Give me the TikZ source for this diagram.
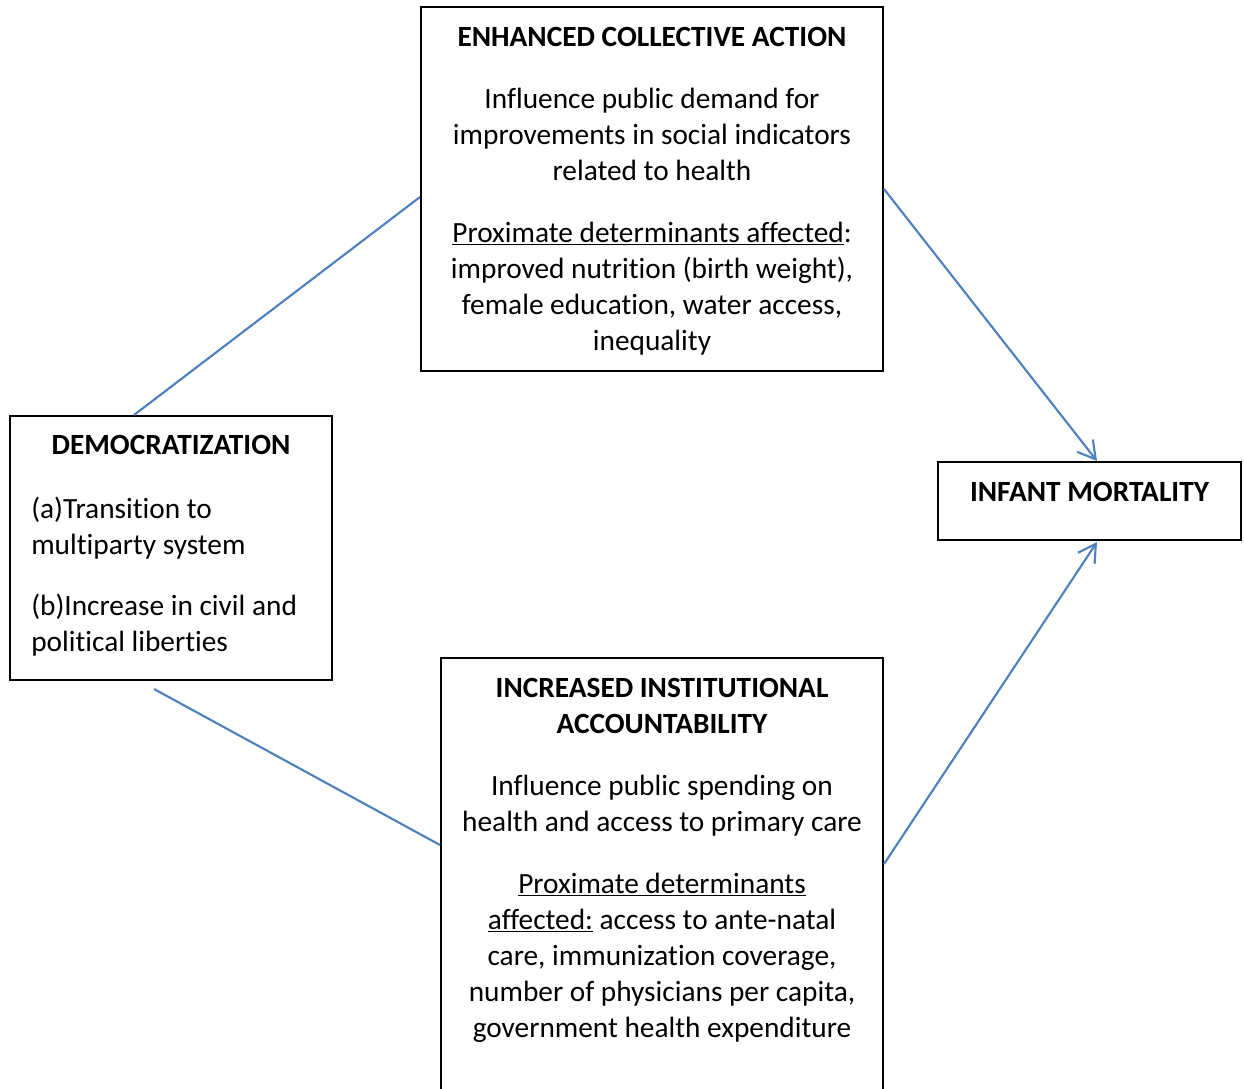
\documentclass[tikz,border=0pt]{standalone}
\usepackage{fontspec}
\setmainfont{Carlito}[RawFeature={-liga;-clig}]
\usetikzlibrary{arrows.meta,calc}
\definecolor{linkblue}{HTML}{4F81BD}
\tikzset{
  box/.style={draw=black, line width=1.5pt, rectangle, inner sep=0pt},
  para/.style={inner sep=0pt, align=center, font=\fontsize{22pt}{27pt}\selectfont},
  parl/.style={inner sep=0pt, align=left, font=\fontsize{22pt}{27pt}\selectfont},
  head/.style={inner sep=0pt, align=center, font=\fontsize{22pt}{27pt}\selectfont\bfseries},
  link/.style={draw=linkblue, line width=1.6pt},
  arrowlink/.style={link, -{Straight Barb[length=13pt, width=15pt, line width=1.6pt]}}
}
\begin{document}
\begin{tikzpicture}[x=0.75pt, y=-0.75pt]
\useasboundingbox (0,0) rectangle (1244,1088);
\clip (0,0) rectangle (1244,1088);
\fill[white] (0,0) rectangle (1244,1088);

% boxes
\node[box, minimum width=346.5pt, minimum height=273pt] (eca) at (652,189) {};
\node[box, minimum width=241.5pt, minimum height=198pt] (dem) at (171,548) {};
\node[box, minimum width=227.25pt, minimum height=58.5pt] (im) at (1089.5,501) {};
\node[box, minimum width=331.5pt, minimum height=346.5pt] (iia) at (662,889) {};

% top box text (base anchor = baseline of last line)
\node[head, anchor=base] (ecaT) at (652,46) {ENHANCED COLLECTIVE ACTION};
\node[para, anchor=base] (ecaP1) at (652,180) {Influence public demand for\\improvements in social indicators\\related to health};
\node[para, anchor=base] (ecaP2) at (652,350) {\underline{Proximate determinants affected}:\\improved nutrition (birth weight),\\female education, water access,\\inequality};

% democratization text
\node[head, anchor=base] (demT) at (171,454) {DEMOCRATIZATION};
\node[parl, anchor=base west] (demP1) at (31,554) {(a)Transition to\\multiparty system};
\node[parl, anchor=base west] (demP2) at (31,651) {(b)Increase in civil and\\political liberties};

% infant mortality text
\node[head, anchor=base] (imT) at (1089.5,501) {INFANT MORTALITY};

% bottom box text
\node[head, anchor=base] (iiaT) at (662,733) {INCREASED INSTITUTIONAL\\ACCOUNTABILITY};
\node[para, anchor=base] (iiaP1) at (662,831) {Influence public spending on\\health and access to primary care};
\node[para, anchor=base] (iiaP2) at (662,1037) {\underline{Proximate determinants}\\\underline{affected:} access to ante-natal\\care, immunization coverage,\\number of physicians per capita,\\government health expenditure};

% connectors
\coordinate (demfree) at ($(dem.south)+(-17,8)$);
\draw[link] ($(dem.north)+(-37,0)$) -- ($(eca.west)+(0,8)$);
\draw[arrowlink] (eca.east) -- ($(im.north)+(7.5,0)$);
\draw[link] (demfree) -- ($(iia.west)+(0,-44)$);
\draw[arrowlink] ($(iia.east)+(0,-25)$) -- ($(im.south)+(7.5,1)$);
\end{tikzpicture}
\end{document}
